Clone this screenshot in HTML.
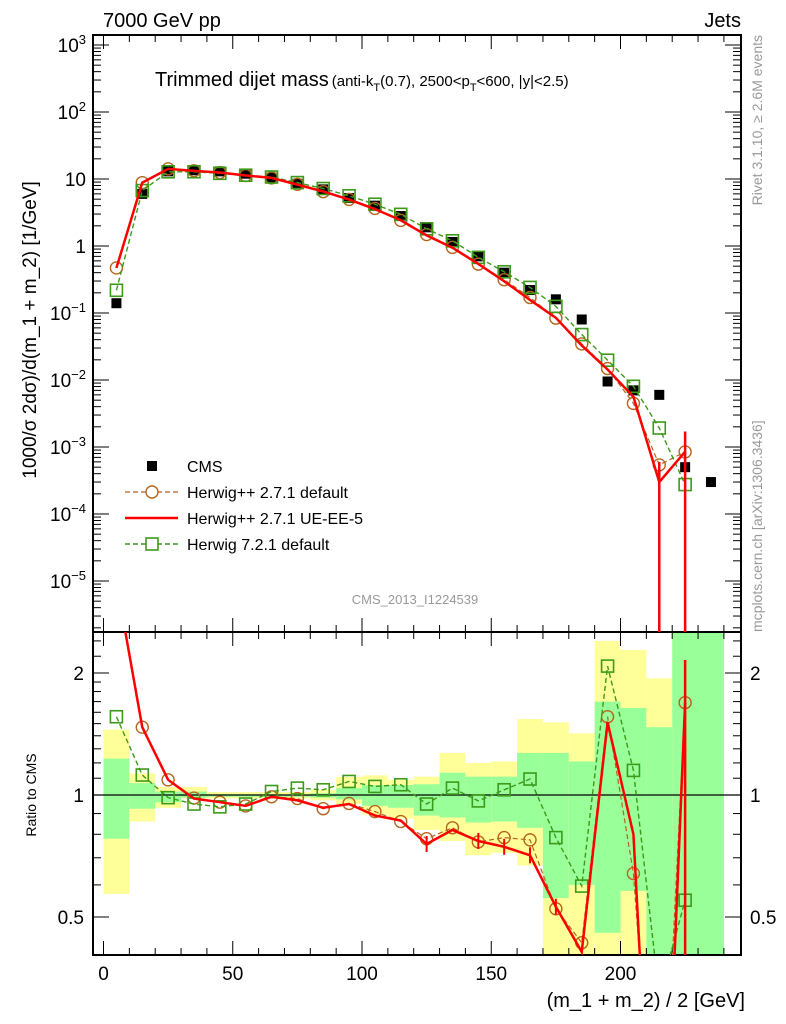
<!DOCTYPE html>
<html><head><meta charset="utf-8"><style>
html,body{margin:0;padding:0;background:#fff;overflow:hidden;width:786px;height:1024px;}
svg{display:block;font-family:"Liberation Sans",sans-serif;}
</style></head><body>
<svg id="chart" width="786" height="1024" viewBox="0 0 786 1024" xmlns="http://www.w3.org/2000/svg">
<g id="bands"></g>
<g id="grid"></g>
<g id="series"></g>
<text x="103" y="27" font-size="20">7000 GeV pp</text>
<text x="741" y="27" font-size="20" text-anchor="end">Jets</text>
<text x="155" y="86" font-size="20">Trimmed dijet mass<tspan font-size="15" dx="3">(anti-k</tspan><tspan font-size="11" dy="5">T</tspan><tspan font-size="15" dy="-5">(0.7), 2500&lt;p</tspan><tspan font-size="11" dy="5">T</tspan><tspan font-size="15" dy="-5">&lt;600, |y|&lt;2.5)</tspan></text>
<text transform="translate(36,330) rotate(-90)" font-size="19" text-anchor="middle">1000/σ 2dσ)/d(m_1 + m_2) [1/GeV]</text>
<text transform="translate(36,795) rotate(-90)" font-size="14" text-anchor="middle">Ratio to CMS</text>
<text transform="translate(762,35) rotate(-90)" font-size="14" fill="#999" text-anchor="end">Rivet 3.1.10, ≥ 2.6M events</text>
<text transform="translate(762,632) rotate(-90)" font-size="14" fill="#999">mcplots.cern.ch [arXiv:1306.3436]</text>
<text x="415" y="604" font-size="13" fill="#999" text-anchor="middle">CMS_2013_I1224539</text>
<text x="745" y="1007" font-size="20" text-anchor="end">(m_1 + m_2) / 2 [GeV]</text>
<g id="legend"></g>
</svg>
<script>
const binCenters=[5,15,25,35,45,55,65,75,85,95,105,115,125,135,145,155,165,175,185,195,205,215,225,235];
const cmsValues=[0.14,6,13,13.5,13,12,10.5,8.5,7,5.2,4,2.8,1.9,1.15,0.7,0.4,0.22,0.16,0.08,0.0095,0.007,0.006,0.0005,0.0003];
const ratioDefault=[3.36,1.47,1.09,0.983,0.96,0.94,0.99,0.98,0.925,0.953,0.91,0.86,0.78,0.83,0.766,0.785,0.775,0.524,0.432,1.56,0.64,0.09,1.69,null];
const ratioUE=[3.36,1.47,1.09,0.98,0.96,0.94,0.99,0.97,0.93,0.95,0.89,0.865,0.757,0.82,0.77,0.745,0.71,0.53,0.41,1.51,0.8,0.05,1.7,null];
const ratioH7=[1.56,1.12,0.985,0.95,0.935,0.95,1.02,1.04,1.03,1.08,1.05,1.06,0.95,1.04,0.967,1.03,1.095,0.785,0.596,2.08,1.15,0.32,0.55,null];
const yellowHi=[1.45,1.13,1.047,1.047,1.017,1.017,1.017,1.017,1.03,1.108,1.118,1.09,1.11,1.27,1.2,1.21,1.54,1.51,1.42,2.4,2.28,1.94,3,3];
const yellowLo=[0.57,0.86,0.93,0.98,0.98,0.98,0.98,0.98,0.97,0.95,0.894,0.875,0.82,0.77,0.71,0.72,0.67,0.3,0.3,0.3,0.3,0.3,0.3,0.3];
const greenHi=[1.23,1.07,1.02,1.02,1.004,1.004,1.004,1.004,1.01,1.04,1.058,1.058,1.063,1.135,1.11,1.11,1.27,1.27,1.21,1.7,1.64,1.47,3,3];
const greenLo=[0.78,0.925,0.96,0.985,0.99,0.99,0.99,0.99,0.985,0.975,0.94,0.93,0.89,0.88,0.855,0.86,0.83,0.557,0.6,0.457,0.58,0.3,0.3,0.3];
const xTicks=[0,50,100,150,200];
const mainTickExp=[-5,-4,-3,-2,-1,0,1,2,3];
const ratioTicks=[0.5,1,2];

const NS="http://www.w3.org/2000/svg";
const L=93,R=741,MT=35,MB=632,RB=955;
const X=v=>103.5+v*2.585;
const YM=v=>246-67*Math.log10(v);
const YR=v=>795-122*Math.log2(v);
function mk(tag,attrs,parent){const e=document.createElementNS(NS,tag);for(const k in attrs)e.setAttribute(k,attrs[k]);parent.appendChild(e);return e;}
const bands=document.getElementById('bands'),grid=document.getElementById('grid'),ser=document.getElementById('series'),leg=document.getElementById('legend');
const clampR=v=>Math.max(MB,Math.min(RB,v));

binCenters.forEach((c,i)=>{
  const x0=X(c-5),x1=Math.min(X(c+5),R);
  let y0=clampR(YR(yellowHi[i])),y1=clampR(YR(yellowLo[i]));
  let r=mk('rect',{x:x0,y:y0,width:x1-x0,height:y1-y0,fill:'#ffff99'},bands);
  
  
  y0=clampR(YR(greenHi[i]));y1=clampR(YR(greenLo[i]));
  r=mk('rect',{x:x0,y:y0,width:x1-x0,height:y1-y0,fill:'#99ff99'},bands);
  
  
});

mk('rect',{x:L,y:MT,width:R-L,height:MB-MT,fill:'none',stroke:'#000','stroke-width':2},grid);
mk('rect',{x:L,y:MB,width:R-L,height:RB-MB,fill:'none',stroke:'#000','stroke-width':2},grid);
mk('line',{x1:L,x2:R,y1:YR(1),y2:YR(1),stroke:'#000','stroke-width':1.3},grid);
for(let v=0;v<=240;v+=10){
  const big=v%50===0,x=X(v),h=big?14:7;
  [MT,MB].forEach(y=>mk('line',{x1:x,x2:x,y1:y,y2:y+h,stroke:'#000'},grid));
  [MB,RB].forEach(y=>mk('line',{x1:x,x2:x,y1:y,y2:y-h,stroke:'#000'},grid));
}
xTicks.forEach(v=>{const t=mk('text',{x:X(v),y:980,'font-size':19,'text-anchor':'middle'},grid);t.textContent=v;

});
for(let e=-6;e<=3;e++){for(let m=1;m<10;m++){const v=m*Math.pow(10,e),y=YM(v);if(y<MT||y>MB)continue;const h=m===1?16:8;
mk('line',{x1:L,x2:L+h,y1:y,y2:y,stroke:'#000'},grid);mk('line',{x1:R,x2:R-h,y1:y,y2:y,stroke:'#000'},grid);}}
mainTickExp.forEach(e=>{const t=mk('text',{x:86,y:YM(Math.pow(10,e))+7,'font-size':19,'text-anchor':'end'},grid);
if(e===0)t.textContent='1';else if(e===1)t.textContent='10';else{t.textContent='10';const s=mk('tspan',{'font-size':13,dy:-8},t);s.textContent=String(e).replace('-','−');}

});
[0.4,0.5,0.6,0.7,0.8,0.9,1,1.1,1.2,1.3,1.4,1.5,1.6,1.7,1.8,1.9,2,2.2,2.4].forEach(v=>{const y=YR(v);if(y<MB||y>RB)return;const h=ratioTicks.includes(v)?16:8;
mk('line',{x1:L,x2:L+h,y1:y,y2:y,stroke:'#000'},grid);mk('line',{x1:R,x2:R-h,y1:y,y2:y,stroke:'#000'},grid);});
ratioTicks.forEach(v=>{[[84,'end'],[750,'start']].forEach(([x,a])=>{const t=mk('text',{x:x,y:YR(v)+7,'font-size':19,'text-anchor':a},grid);t.textContent=v;

});});

const cDef='#b5651d',cUE='#ff0000',cH7='#3c9a1a';
function clipGroup(y0,y1){const id='c'+y0;const cp=mk('clipPath',{id:id},ser);mk('rect',{x:L,y:y0,width:R-L,height:y1-y0},cp);return mk('g',{'clip-path':'url(#'+id+')'},ser);}
const gMain=clipGroup(MT,MB),gRat=clipGroup(MB,RB);
function drawSeries(g,yfun,vals,color,width,dash,marker,name){
  let pts=[];vals.forEach((v,i)=>{if(v==null)return;pts.push([X(binCenters[i]),yfun(v)]);});
  const p=mk('polyline',{points:pts.map(p=>p.join(',')).join(' '),fill:'none',stroke:color,'stroke-width':width},g);
  if(dash)p.setAttribute('stroke-dasharray',dash);
  
  
  pts.forEach(([x,y])=>{let m;
    if(marker==='circle')m=mk('circle',{cx:x,cy:y,r:6,fill:'none',stroke:color,'stroke-width':1.4},g);
    else if(marker==='square')m=mk('rect',{x:x-6,y:y-6,width:12,height:12,fill:'none',stroke:color,'stroke-width':1.6},g);
    else if(marker==='cms')m=mk('rect',{x:x-5,y:y-5,width:10,height:10,fill:'#000'},g);
    if(m){
    }
  });
}
const mainOf=r=>r.map((v,i)=>v==null?null:v*cmsValues[i]);
drawSeries(gMain,YM,cmsValues,'none',0,null,'cms','cms');
drawSeries(gMain,YM,mainOf(ratioDefault),cDef,1.2,'5,3','circle','herwigpp-default');
drawSeries(gMain,YM,mainOf(ratioH7),cH7,1.4,'5,3','square','herwig7-default');
drawSeries(gMain,YM,mainOf(ratioUE),cUE,2.5,null,null,'herwigpp-ue-ee-5');
[21,22].forEach(i=>{const x=X(binCenters[i]);const l=mk('line',{x1:x,x2:x,y1:YM(ratioUE[i]*cmsValues[i]*2),y2:MB,stroke:cUE,'stroke-width':2.5},gMain);

});
drawSeries(gRat,YR,ratioDefault,cDef,1.2,'5,3','circle','ratio-herwigpp-default');
drawSeries(gRat,YR,ratioH7,cH7,1.4,'5,3','square','ratio-herwig7-default');
drawSeries(gRat,YR,ratioUE,cUE,2.5,null,null,'ratio-herwigpp-ue-ee-5');
[12,14,15,16,17].forEach(i=>{const x=X(binCenters[i]),y=YR(ratioUE[i]);const l=mk('line',{x1:x,x2:x,y1:y-8,y2:y+8,stroke:cUE,'stroke-width':2},gRat);

});
{const x=X(binCenters[22]);const l=mk('line',{x1:x,x2:x,y1:660,y2:RB,stroke:cUE,'stroke-width':2.5},gRat);

}

const entries=[['CMS','cms'],['Herwig++ 2.7.1 default','def'],['Herwig++ 2.7.1 UE-EE-5','ue'],['Herwig 7.2.1 default','h7']];
entries.forEach(([lab,k],i)=>{const y=466+i*26;
  if(k==='cms')mk('rect',{x:147,y:y-5,width:10,height:10,fill:'#000'},leg);
  if(k==='def'){mk('line',{x1:125,x2:178,y1:y,y2:y,stroke:cDef,'stroke-dasharray':'5,3','stroke-width':1.2},leg);mk('circle',{cx:152,cy:y,r:6,fill:'#fff',stroke:cDef,'stroke-width':1.4},leg);}
  if(k==='ue')mk('line',{x1:125,x2:178,y1:y,y2:y,stroke:cUE,'stroke-width':2.5},leg);
  if(k==='h7'){mk('line',{x1:125,x2:178,y1:y,y2:y,stroke:cH7,'stroke-dasharray':'5,3','stroke-width':1.4},leg);mk('rect',{x:146,y:y-6,width:12,height:12,fill:'#fff',stroke:cH7,'stroke-width':1.6},leg);}
  const t=mk('text',{x:187,y:y+6,'font-size':16},leg);t.textContent=lab;
  
  
});
</script>
</body></html>
